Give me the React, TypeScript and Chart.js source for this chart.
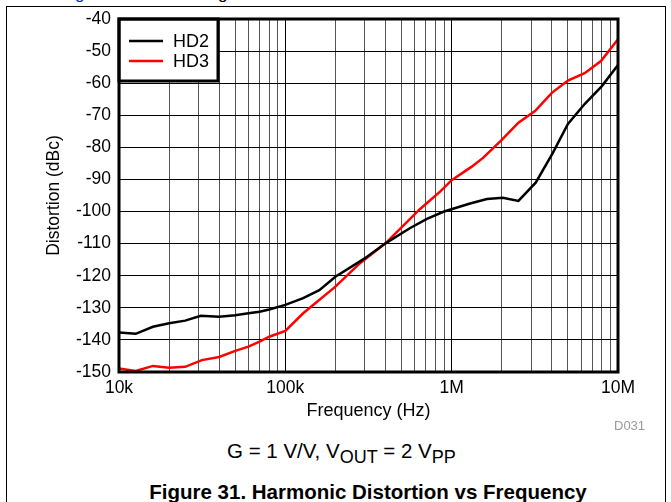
import React, { useEffect, useRef } from "react";
import { Chart, registerables } from "chart.js";

Chart.register(...registerables);

// ---- data ----
const HD2_FREQ = [10e3, 12.6e3, 16e3, 20e3, 25e3, 31e3, 40e3, 50e3, 60e3, 70e3, 80e3, 100e3, 128e3, 160e3, 200e3, 300e3, 400e3, 560e3, 710e3, 900e3, 1.29e6, 1.63e6, 2.03e6, 2.52e6, 3.2e6, 4.05e6, 5.0e6, 6.3e6, 8.0e6, 10e6];
const HD2 = [-137.7, -138.1, -135.9, -134.8, -134, -132.5, -132.8, -132.3, -131.7, -131.2, -130.5, -129.1, -127, -124.5, -120.3, -114.6, -109.9, -105.2, -102.3, -100.0, -97.5, -96.1, -95.7, -96.7, -91, -81.8, -72.7, -66.5, -60.9, -54.3];

const HD3_FREQ = [10e3, 12.6e3, 16e3, 20e3, 25e3, 31.5e3, 40e3, 50e3, 60e3, 70e3, 80e3, 100e3, 128e3, 200e3, 281e3, 400e3, 646e3, 852e3, 1e6, 1.32e6, 1.55e6, 2.0e6, 2.52e6, 3.17e6, 4e6, 5e6, 6.3e6, 7.9e6, 10e6];
const HD3 = [-148.9, -149.7, -148.1, -148.7, -148.4, -146.3, -145.3, -143.4, -142.1, -140.5, -139, -137.2, -131.7, -123.4, -116.1, -109.9, -99.2, -93.8, -90.2, -86, -83.2, -77.7, -72.3, -68.7, -63, -59.2, -56.9, -53.1, -46.3];

const SERIES_NAMES = ["HD2", "HD3"];
const SERIES_COLORS = ["#000000", "#ff0000"];

const DECADES = [1e4, 1e5, 1e6, 1e7];
const DECADE_LABELS = ["10k", "100k", "1M", "10M"];
const MANTISSAS = [1, 2, 3, 4, 5, 6, 7, 8, 9];
const Y_TICKS = [-150, -140, -130, -120, -110, -100, -90, -80, -70, -60, -50, -40];

const X_TITLE = "Frequency (Hz)";
const Y_TITLE = "Distortion (dBc)";

const FONT = '"Liberation Sans", Arial, Helvetica, sans-serif';

const X_TICK_VALUES: number[] = [];
DECADES.forEach((d, i) => {
  if (i === DECADES.length - 1) {
    X_TICK_VALUES.push(d);
  } else {
    MANTISSAS.forEach((m) => X_TICK_VALUES.push(d * m));
  }
});

const isDecade = (v: number) => DECADES.some((d) => Math.abs(d - v) / d < 1e-6);

export default function App() {
  const ref = useRef<HTMLCanvasElement>(null);

  useEffect(() => {
    if (!ref.current) return;

    const framePlugin = {
      id: "frameAndLegend",
      afterDatasetsDraw(chart: any) {
        const { ctx, chartArea: a } = chart;
        ctx.save();
        // legend box
        const bw = 99;
        const bh = 62;
        ctx.fillStyle = "#ffffff";
        ctx.fillRect(a.left, a.top, bw, bh);
        ctx.lineWidth = 3;
        ctx.strokeStyle = "#000";
        ctx.strokeRect(a.left, a.top, bw, bh);
        chart.data.datasets.forEach((ds: any, i: number) => {
          const y = a.top + 22 + i * 20;
          ctx.beginPath();
          ctx.strokeStyle = ds.borderColor;
          ctx.lineWidth = 2.5;
          ctx.moveTo(a.left + 10, y);
          ctx.lineTo(a.left + 44, y);
          ctx.stroke();
          ctx.fillStyle = "#000";
          ctx.font = `18px ${FONT}`;
          ctx.textBaseline = "middle";
          ctx.textAlign = "left";
          ctx.fillText(ds.label, a.left + 54, y + 1);
        });
        // plot border
        ctx.lineWidth = 3;
        ctx.strokeStyle = "#000";
        ctx.strokeRect(a.left, a.top, a.right - a.left, a.bottom - a.top);
        ctx.restore();
      },
    };

    const chart = new Chart(ref.current, {
      type: "line",
      data: {
        datasets: [
          {
            label: SERIES_NAMES[0],
            data: HD2_FREQ.map((f, i) => ({ x: f, y: HD2[i] })),
            borderColor: SERIES_COLORS[0],
            backgroundColor: SERIES_COLORS[0],
            borderWidth: 2.5,
            pointRadius: 0,
            tension: 0,
          },
          {
            label: SERIES_NAMES[1],
            data: HD3_FREQ.map((f, i) => ({ x: f, y: HD3[i] })),
            borderColor: SERIES_COLORS[1],
            backgroundColor: SERIES_COLORS[1],
            borderWidth: 2.5,
            pointRadius: 0,
            tension: 0,
          },
        ],
      },
      options: {
        responsive: false,
        animation: false,
        devicePixelRatio: 1,
        layout: { padding: { left: 0, top: 19, right: 53, bottom: 0 } },
        plugins: {
          legend: { display: false },
          tooltip: { enabled: false },
        },
        scales: {
          x: {
            type: "logarithmic",
            min: 1e4,
            max: 1e7,
            afterBuildTicks: (scale: any) => {
              scale.ticks = X_TICK_VALUES.map((v) => ({ value: v }));
            },
            afterFit: (scale: any) => {
              scale.height = 58;
            },
            ticks: {
              autoSkip: false,
              maxRotation: 0,
              minRotation: 0,
              padding: 6,
              color: "#000",
              font: { family: FONT, size: 17.5 },
              callback: (value: any) => {
                const idx = DECADES.findIndex((d) => Math.abs(d - value) / d < 1e-6);
                return idx >= 0 ? DECADE_LABELS[idx] : "";
              },
            },
            grid: {
              drawTicks: false,
              lineWidth: 1,
              color: (ctx: any) => (ctx.tick && isDecade(ctx.tick.value) ? "#000000" : "#555555"),
            },
            border: { display: false },
            title: {
              display: true,
              text: X_TITLE,
              color: "#000",
              font: { family: FONT, size: 18 },
              padding: { top: 0, bottom: 8 },
            },
          },
          y: {
            type: "linear",
            min: -150,
            max: -40,
            afterBuildTicks: (scale: any) => {
              scale.ticks = Y_TICKS.map((v) => ({ value: v }));
            },
            afterFit: (scale: any) => {
              scale.width = 119;
            },
            ticks: {
              padding: 8,
              color: "#000",
              font: { family: FONT, size: 17.5 },
              callback: (value: any) => String(value),
            },
            grid: {
              drawTicks: false,
              lineWidth: 1,
              color: "#000000",
            },
            border: { display: false },
            title: {
              display: true,
              text: Y_TITLE,
              color: "#000",
              font: { family: FONT, size: 17.5 },
              padding: { top: 44, bottom: 0 },
            },
          },
        },
      },
      plugins: [framePlugin],
    } as any);

    return () => chart.destroy();
  }, []);

  const textBase: React.CSSProperties = {
    position: "absolute",
    fontFamily: FONT,
    whiteSpace: "nowrap",
    color: "#000",
  };

  return (
    <div
      style={{
        position: "absolute",
        left: 0,
        top: 0,
        width: 671,
        height: 502,
        overflow: "hidden",
        background: "#fff",
      }}
    >
      <div style={{ ...textBase, left: 75, top: -15, fontSize: 17, lineHeight: "17px", color: "#0033cc" }}>g</div>
      <div style={{ ...textBase, left: 218, top: -15, fontSize: 17, lineHeight: "17px" }}>g</div>
      <div
        style={{
          position: "absolute",
          left: 6,
          top: 6,
          width: 658,
          height: 560,
          border: "1px solid #000",
        }}
      />
      <canvas
        ref={ref}
        width={671}
        height={430}
        style={{ position: "absolute", left: 0, top: 0, width: 671, height: 430 }}
      />
      <div style={{ ...textBase, left: 614, top: 418, fontSize: 13, lineHeight: "15px", color: "#999" }}>D031</div>
      <div style={{ ...textBase, left: 227, top: 439, fontSize: 20.5, lineHeight: "24px" }}>
        G = 1 V/V, V<span style={{ fontSize: 18, position: "relative", top: 5 }}>OUT</span> = 2 V
        <span style={{ fontSize: 18, position: "relative", top: 5 }}>PP</span>
      </div>
      <div style={{ ...textBase, left: 0, width: 736, textAlign: "center", top: 480, fontSize: 20.5, lineHeight: "24px", fontWeight: "bold" }}>
        Figure 31. Harmonic Distortion vs Frequency
      </div>
    </div>
  );
}
